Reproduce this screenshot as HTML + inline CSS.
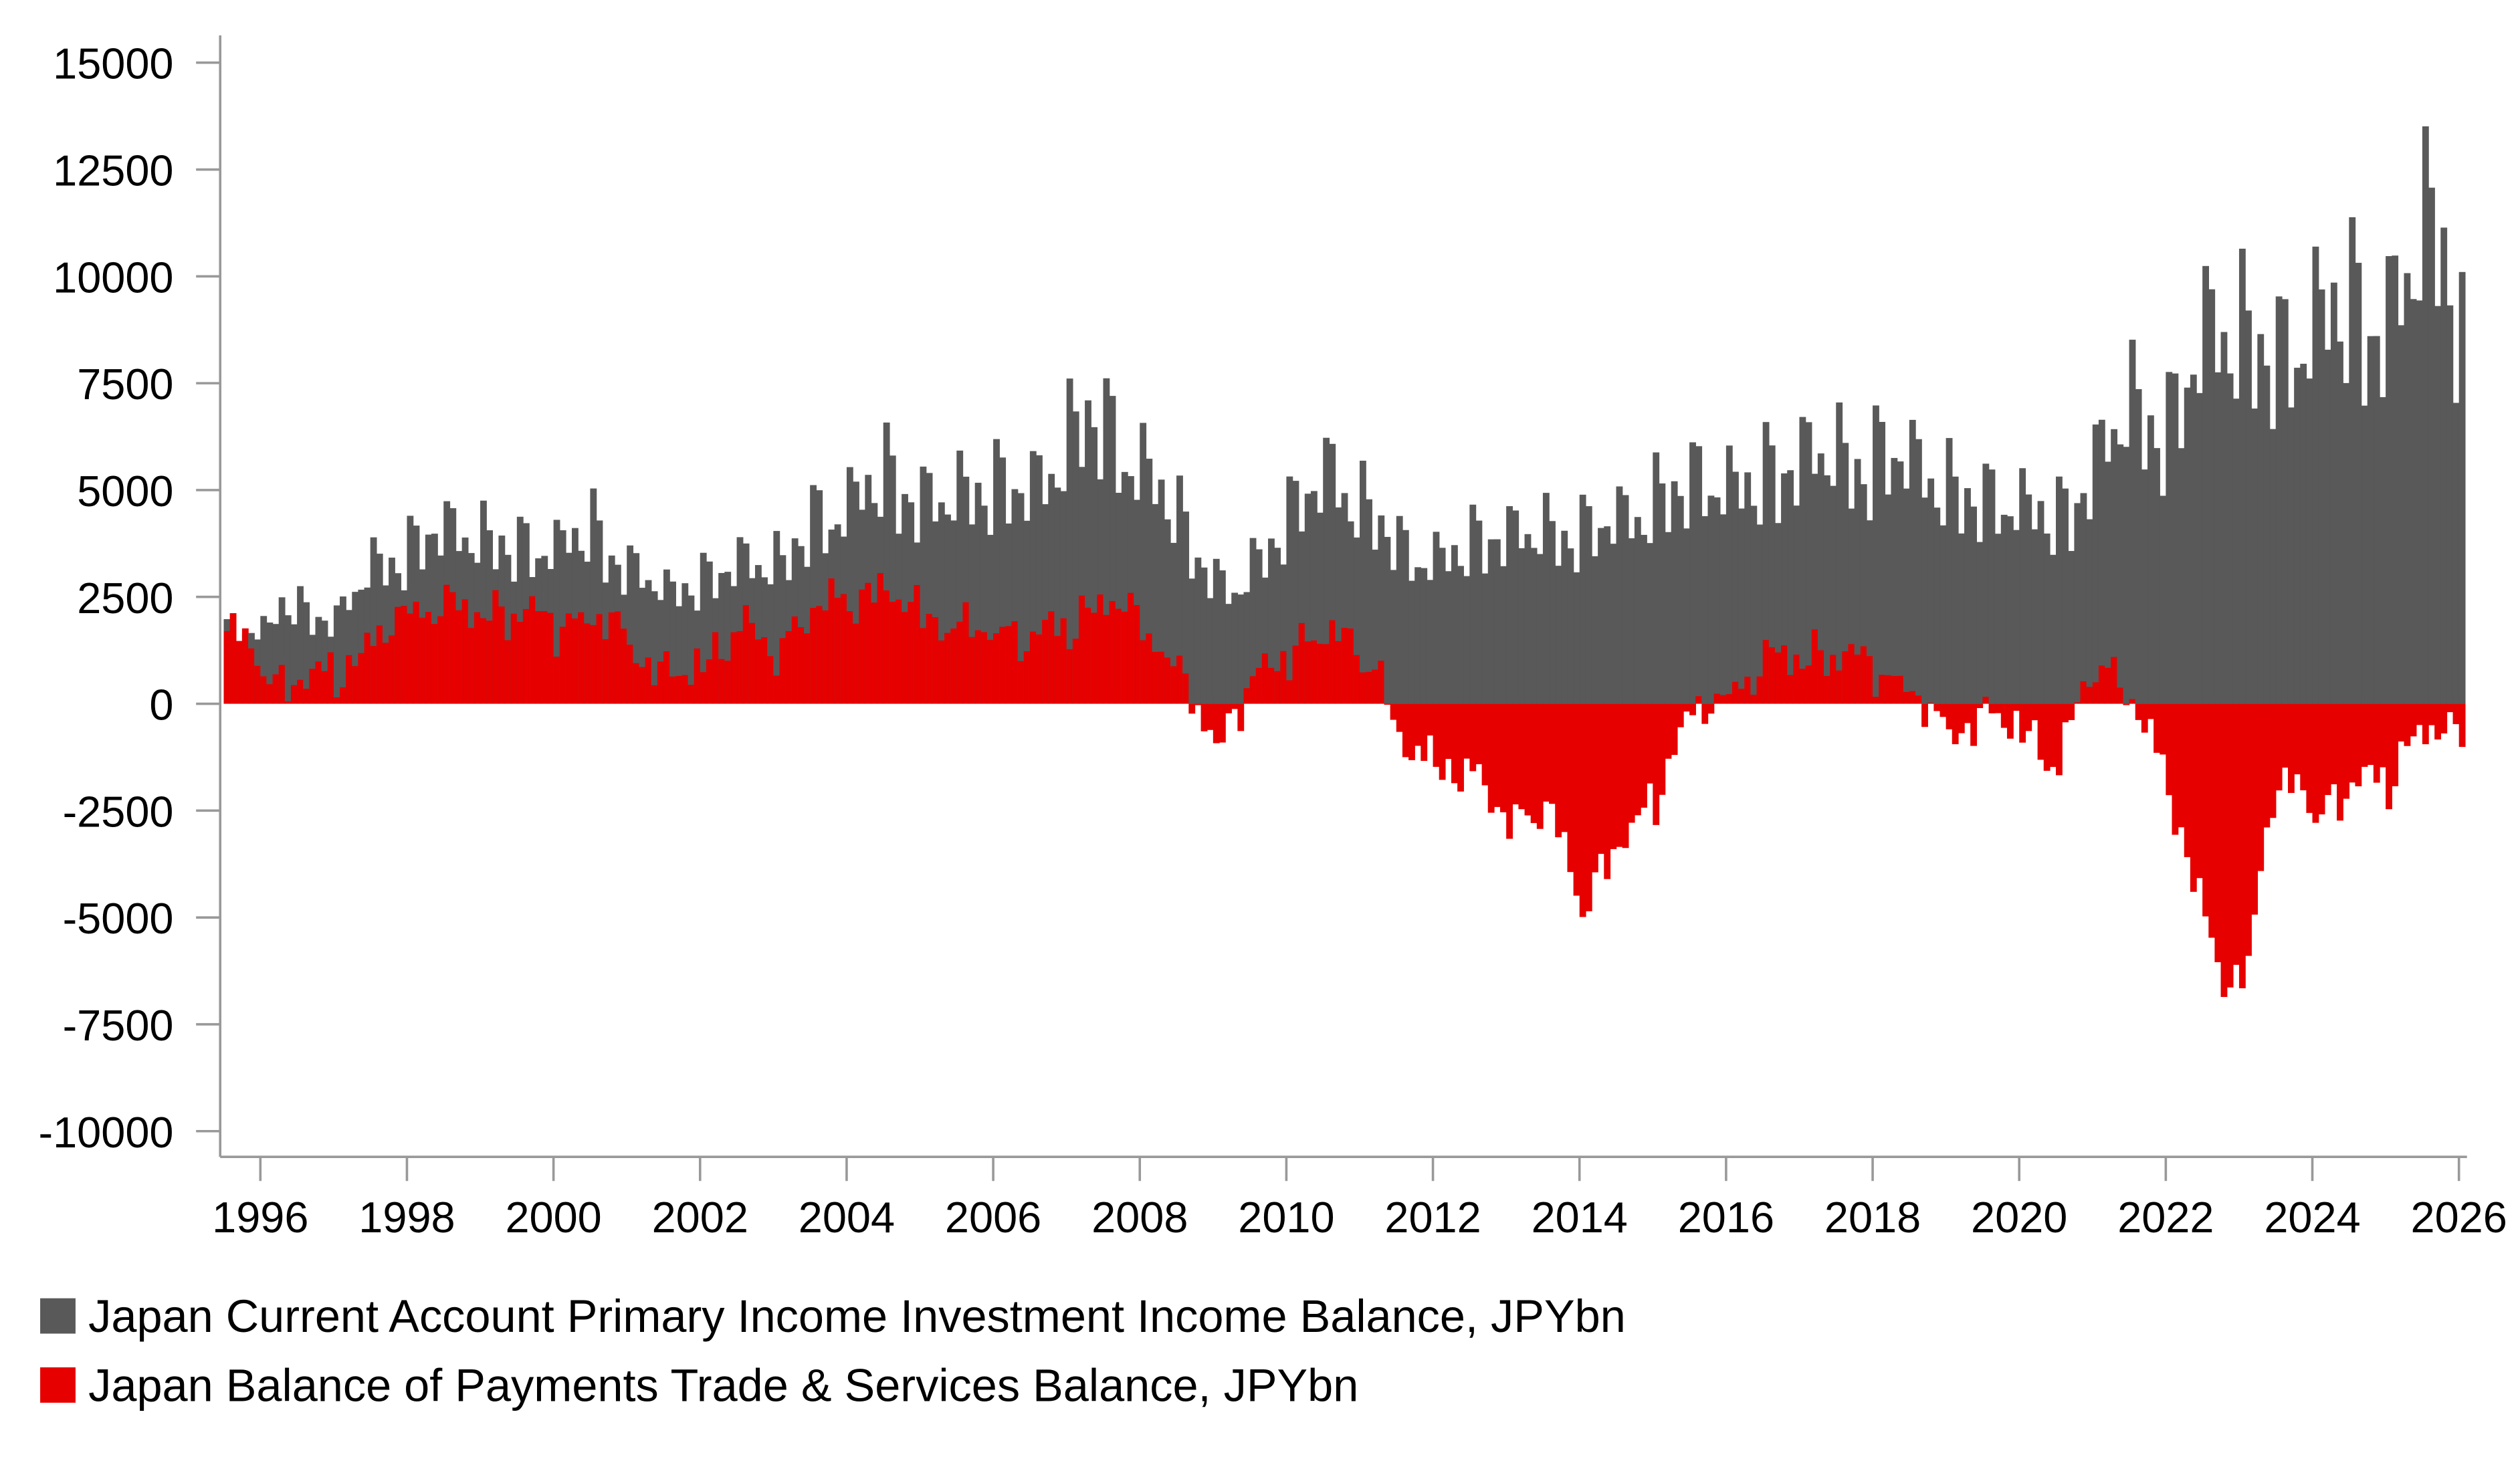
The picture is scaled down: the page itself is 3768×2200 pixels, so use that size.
<!DOCTYPE html>
<html><head><meta charset="utf-8"><style>
html,body{margin:0;padding:0;background:#fff}
svg{display:block}
text{font-family:"Liberation Sans",Arial,sans-serif;fill:#000}
</style></head><body>
<svg id="c" width="3768" height="2200" viewBox="0 0 1568 915.5" preserveAspectRatio="none" xmlns="http://www.w3.org/2000/svg">
<g id="bars"></g>
<g id="axes"></g>
<rect x="25" y="808" width="22" height="22" fill="#595959"/>
<text x="55" y="829" font-size="28.5">Japan Current Account Primary Income Investment Income Balance, JPYbn</text>
<rect x="25" y="851" width="22" height="22" fill="#e60000"/>
<text x="55" y="872" font-size="28.5">Japan Balance of Payments Trade &amp; Services Balance, JPYbn</text>
</svg>
<script>
(function(){
var NS="http://www.w3.org/2000/svg";
function el(t,a,p){var e=document.createElementNS(NS,t);for(var k in a)e.setAttribute(k,a[k]);p.appendChild(e);return e;}
var y0=438, pu=66.5/2500;
function Y(v){return y0-v*pu;}
function X(t){return 162+(t-1996)*45.6;}
function interp(pts,t){if(t<=pts[0][0])return pts[0][1];for(var i=1;i<pts.length;i++){if(t<=pts[i][0]){var a=pts[i-1],b=pts[i];return a[1]+(b[1]-a[1])*(t-a[0])/(b[0]-a[0]);}}return pts[pts.length-1][1];}
var inv=[[1995.5,1500],[1996.1,1600],[1996.25,2200],[1997,1800],[1997.5,2900],[1998.3,3700],[2000,3300],[2000.5,3700],[2001.5,2300],[2002.5,3100],[2003.1,2900],[2003.5,4000],[2004.5,4700],[2005.5,4400],[2006.5,4800],[2007.3,6000],[2008,5300],[2008.7,3200],[2009.2,2400],[2010,3900],[2010.6,5200],[2011.2,3800],[2011.6,3100],[2012.5,3400],[2013.5,3800],[2014.2,3600],[2015,4500],[2016,4700],[2017,5200],[2018,5400],[2019,4700],[2019.6,4300],[2020.5,4000],[2021,5200],[2021.5,6200],[2022,6100],[2022.5,7900],[2023,7800],[2023.5,7600],[2024,8100],[2025,8600],[2025.7,10200],[2026.05,7400]];
var tr=[[1995.5,1600],[1995.9,1300],[1996.2,400],[1997,800],[1997.5,1400],[1998,2300],[1999,2200],[2000,2000],[2000.8,1900],[2001.3,900],[2001.6,600],[2002,1000],[2002.5,1800],[2003,1300],[2003.5,2200],[2004.3,2700],[2005,2200],[2005.5,1700],[2006,1800],[2006.5,1500],[2007.5,2400],[2008,2000],[2008.6,400],[2009,-1000],[2009.3,100],[2010,1300],[2010.5,1700],[2011.2,1000],[2011.5,-1000],[2012,-1300],[2012.5,-1700],[2013,-2700],[2013.5,-2400],[2014,-4600],[2014.5,-3300],[2015,-2200],[2015.3,-600],[2016,300],[2016.5,1000],[2017,1200],[2017.5,1100],[2018,1000],[2018.5,200],[2019,-600],[2019.5,-300],[2020,-500],[2020.5,-1500],[2020.8,200],[2021,1100],[2021.3,600],[2021.6,-300],[2022,-1800],[2022.3,-3900],[2022.8,-6800],[2023.1,-6000],[2023.3,-2700],[2023.8,-1700],[2024,-2600],[2024.5,-1900],[2025,-1700],[2025.3,-800],[2025.7,-600],[2026.05,-700]];
var g=document.getElementById("bars"), w=45.6/12;
var n=0;
for(var t=1995.5;t<2026.05;t+=1/12){
 var m=Math.round((t-Math.floor(t))*12)%12;
 var seas=[0.3,0.2,-0.05,0.12,0.03,-0.08,0.32,0.22,-0.1,0.06,0.0,-0.12][m];
 var nz=Math.sin(n*1.7)*0.05+Math.sin(n*0.37)*0.04;
 var iv=interp(inv,t)*(1+seas+nz);
 var tv=interp(tr,t)+ (Math.sin(n*2.3)*0.5+Math.sin(n*0.9)*0.5)*500 + ([-400,-200,100,0,-300,0,100,200,0,100,0,100][m]);
 var x=X(t);
 el("rect",{x:x.toFixed(2),y:Y(iv).toFixed(2),width:(w+0.3).toFixed(2),height:(iv*pu).toFixed(2),fill:"#595959"},g);
 if(tv>=0) el("rect",{x:x.toFixed(2),y:Y(tv).toFixed(2),width:(w+0.3).toFixed(2),height:(tv*pu).toFixed(2),fill:"#e60000"},g);
 else el("rect",{x:x.toFixed(2),y:y0,width:(w+0.3).toFixed(2),height:(-tv*pu).toFixed(2),fill:"#e60000"},g);
 n++;
}
var a=document.getElementById("axes");
el("line",{x1:137,y1:22,x2:137,y2:720,stroke:"#999","stroke-width":1.5},a);
el("line",{x1:137,y1:720,x2:1535,y2:720,stroke:"#999","stroke-width":1.5},a);
for(var v=15000;v>=-10000;v-=2500){
 var yy=Y(v);
 el("line",{x1:122,y1:yy,x2:137,y2:yy,stroke:"#999","stroke-width":1.5},a);
 var tx=el("text",{x:108,y:yy+10,"font-size":"27","text-anchor":"end"},a);tx.textContent=v;
}
for(var yr=1996;yr<=2026;yr+=2){
 var xx=X(yr);
 el("line",{x1:xx,y1:720,x2:xx,y2:735,stroke:"#999","stroke-width":1.5},a);
 var tx2=el("text",{x:xx,y:767,"font-size":"27","text-anchor":"middle"},a);tx2.textContent=yr;
}
})();
</script>
</body></html>
